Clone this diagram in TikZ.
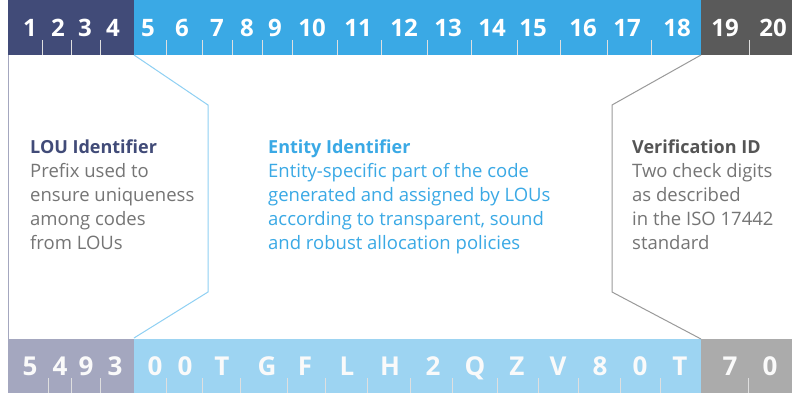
\documentclass[tikz,border=0pt]{standalone}
\usepackage{fontspec}
\setmainfont{Open Sans}
\definecolor{navyT}{HTML}{414B78}
\definecolor{blueT}{HTML}{3AA9E5}
\definecolor{grayT}{HTML}{5A5A5A}
\definecolor{navyB}{HTML}{A4A7BF}
\definecolor{blueB}{HTML}{9DD4F2}
\definecolor{grayB}{HTML}{ABABAB}
\definecolor{bodyGray}{HTML}{757575}
\definecolor{titleGray}{HTML}{555555}
\definecolor{lineBlue}{HTML}{8FD0F3}
\definecolor{lineGray}{HTML}{9A9A9A}
\begin{document}
\begin{tikzpicture}[x=1pt,y=-1pt,
  topdigit/.style={text=white,font=\fontsize{24}{24}\selectfont\bfseries,inner sep=0pt,anchor=base},
  botdigit/.style={text=white!96!gray,font=\fontsize{26}{26}\selectfont\bfseries,inner sep=0pt,anchor=base},
  tick/.style={white!75!gray,line width=0.8pt},
  textline/.style={anchor=base west,inner sep=0pt,font=\fontsize{18.5}{24}\selectfont},
  titleline/.style={textline,font=\fontsize{18}{24}\selectfont\bfseries},
  bracket/.style={line width=1pt,line join=miter}
]
\useasboundingbox (0,0) rectangle (792,396);
\fill[white] (0,0) rectangle (792,396);
% top bar
\fill[navyT] (8,0) rectangle (134,55);
\fill[blueT] (134,0) rectangle (701,55);
\fill[grayT] (701,0) rectangle (792,55);
% bottom bar
\fill[navyB] (8,339) rectangle (134,393);
\fill[blueB] (134,339) rectangle (701,393);
\fill[grayB] (701,339) rectangle (792,393);
% ticks
\foreach \x in {42,71,100,166,202,232,262,292,337,381,427,471,517,560,607,651,749}
  \draw[tick] (\x,40) -- (\x,55);
\foreach \x in {48,71,100,166,202,240,287,325,367,410,452,497,538,578,620,660,748}
  \draw[tick] (\x,378) -- (\x,393);
% top digits
\foreach \d/\x [count=\i] in {1/30,2/58,3/85,4/113,5/148,6/182,7/217,8/247,9/275,10/312,11/358,12/404,13/448,14/492,15/533,16/583,17/627,18/677,19/725,20/773}
  \node[topdigit] (t\i) at (\x,37) {\d};
% bottom characters
\foreach \d/\x [count=\i] in {5/30,4/60,9/86,3/115,0/155,0/185,T/222,G/267,F/305,L/347,H/390,2/433,Q/475,Z/517,V/558,8/600,0/640,T/680,7/730,0/770}
  \node[botdigit] (b\i) at (\x,375) {\d};
% brackets
\coordinate (la) at (134,55); \coordinate (lb) at (208,105);
\coordinate (lc) at (208,292); \coordinate (ld) at (134,338);
\coordinate (ra) at (701,55); \coordinate (rb) at (612,105);
\coordinate (rc) at (612,292); \coordinate (rd) at (701,339);
\coordinate (ea) at (8.5,55); \coordinate (eb) at (8.5,339);
\draw[bracket,lineBlue] (la) -- (lb) -- (lc) -- (ld);
\draw[bracket,lineGray] (ra) -- (rb) -- (rc) -- (rd);
\draw[line width=1pt,navyB] (ea) -- (eb);
% LOU identifier
\node[titleline,text=navyT] (lou0) at (30,153) {LOU Identifier};
\foreach \t [count=\i] in {Prefix used to,ensure uniqueness,among codes,from LOUs}
  \node[textline,text=bodyGray] (lou\i) at (30,153+24*\i) {\t};
% Entity identifier
\node[titleline,text=blueT] (ent0) at (268,153) {Entity Identifier};
\foreach \t [count=\i] in {Entity-specific part of the code,generated and assigned by LOUs,{according to transparent, sound},and robust allocation policies}
  \node[textline,text=blueT] (ent\i) at (268,153+24*\i) {\t};
% Verification ID
\node[titleline,text=titleGray] (ver0) at (632,153) {Verification ID};
\foreach \t [count=\i] in {Two check digits,as described,in the ISO 17442,standard}
  \node[textline,text=bodyGray] (ver\i) at (632,153+24*\i) {\t};
\end{tikzpicture}
\end{document}
